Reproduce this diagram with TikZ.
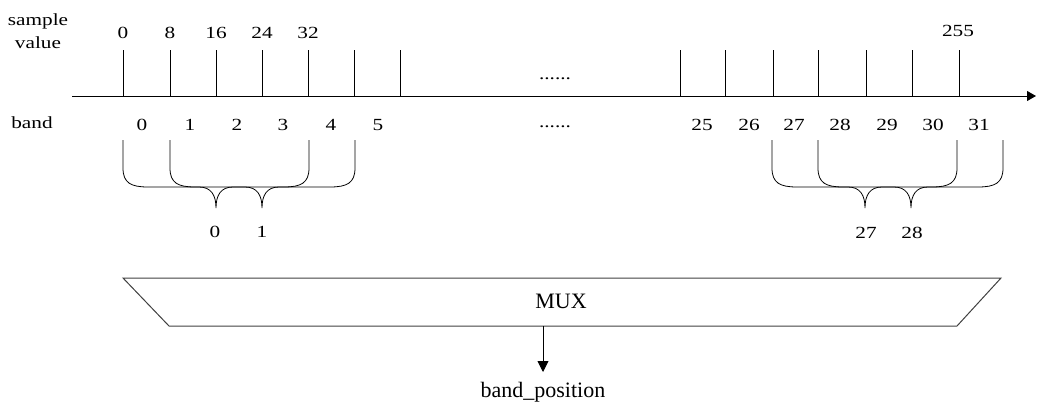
\documentclass[tikz,border=0pt]{standalone}
\usepackage{fontspec}
\setmainfont{Liberation Serif}
\newfontfamily\topfont[FakeStretch=1.25]{Liberation Serif}
\usetikzlibrary{arrows.meta}
\tikzset{
  lbl/.style={font=\topfont\fontsize{17}{19}\selectfont, anchor=base, inner sep=0pt},
  biglbl/.style={font=\fontsize{22}{24}\selectfont, anchor=base, inner sep=0pt},
  tick/.style={line width=0.9pt},
  brc/.style={line width=0.8pt},
  box/.style={line width=1pt, draw=black!75},
}
\newcommand\mybrc[3]{% left x, right x, mid x
  \draw[brc] (#1,140) -- (#1,168) .. controls (#1,183) and ({#1+8},187) .. ({#1+25},187)
    -- ({#3-17},187) .. controls ({#3-5},187) and (#3,195) .. (#3,208)
    .. controls (#3,195) and ({#3+5},187) .. ({#3+17},187)
    -- ({#2-25},187) .. controls ({#2-8},187) and (#2,183) .. (#2,168) -- (#2,140);}
\begin{document}
\begin{tikzpicture}[x=1pt,y=-1pt]
\useasboundingbox (0,0) rectangle (1037,407);
% axis
\coordinate (ax0) at (72,96);
\coordinate (ax1) at (1036,96);
\draw[line width=1pt,-{Triangle[width=10pt,length=9pt]}] (ax0) -- (ax1);
% ticks
\foreach \x [count=\i] in {123,170,216,262,308,354,400,680,725,773,818,866,912,959}{
  \coordinate (t\i) at (\x,50);
  \coordinate (b\i) at (\x,96);
  \draw[tick] (t\i) -- (b\i);
}
% labels
\node[lbl] (sv1) at (38,25) {sample};
\node[lbl] (sv2) at (38,48) {value};
\node[lbl] (bd) at (32,128) {band};
\foreach \x/\t in {123/0,170/8,216/16,262/24,308/32}
  \node[lbl] at (\x,38) {\t};
\node[lbl] (s255) at (958,36) {255};
\foreach \x/\t in {142/0,190/1,237/2,283/3,331/4,378/5,702/25,749/26,794/27,840/28,887/29,933/30,979/31}
  \node[lbl] at (\x,130) {\t};
\node[lbl] (dots1) at (555,79) {......};
\node[lbl] (dots2) at (555,127) {......};
% braces
\mybrc{123}{309}{216}
\mybrc{170}{355}{262}
\mybrc{772}{957}{865}
\mybrc{818}{1003}{911}
\node[lbl] (o0) at (215,237) {0};
\node[lbl] (o1) at (262,237) {1};
\node[lbl] (o27) at (866,238) {27};
\node[lbl] (o28) at (912,238) {28};
% MUX
\draw[box] (123,278) -- (1001,278) -- (957,326) -- (169,326) -- cycle;
\node[biglbl] (mux) at (561,308) {MUX};
\coordinate (muxout) at (543,326);
\node[biglbl] (bp) at (543,397) {band\_position};
\draw[line width=0.9pt,-{Triangle[width=11pt,length=11pt]}] (muxout) -- (543,372);
\end{tikzpicture}
\end{document}
